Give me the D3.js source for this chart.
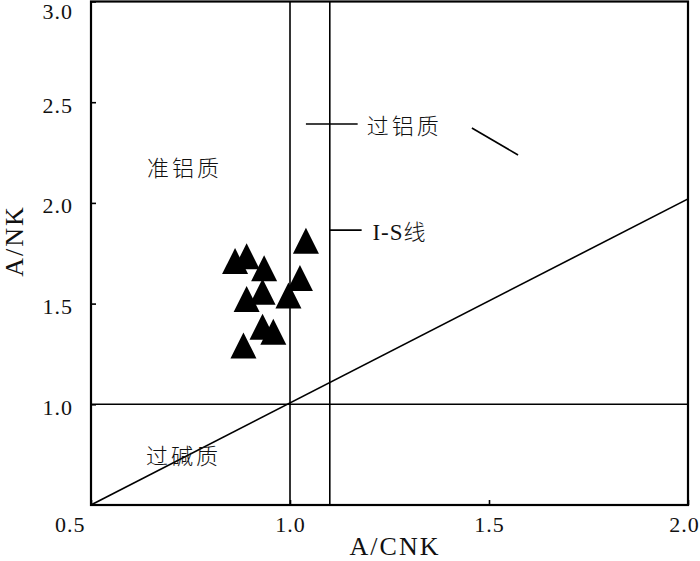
<!DOCTYPE html>
<html>
<head>
<meta charset="utf-8">
<script src="https://cdn.jsdelivr.net/npm/d3@7"></script>
<style>
  body { margin: 0; background: #fff; }
  svg { display: block; }
  .tick text { font-family: "Liberation Serif", "Times New Roman", serif; font-size: 22px; fill: #111; letter-spacing: 1px; }
  .lbl-cn { font-family: "Noto Sans CJK SC", sans-serif; font-size: 22px; fill: #111; letter-spacing: 3px; font-weight: 300; }
  .lbl-en { font-family: "Liberation Serif", serif; font-size: 23px; fill: #111; letter-spacing: 1px; }
  .axis-title { font-family: "Liberation Serif", serif; font-size: 26px; fill: #111; letter-spacing: 2px; }
</style>
</head>
<body>
<svg id="chart" width="700" height="561"></svg>
<script>
// sample points (A/CNK, A/NK)
const acnk = [0.862, 0.891, 0.935, 1.040, 1.025, 0.931, 0.891, 0.996, 0.931, 0.958, 0.883];
const anks = [1.711, 1.735, 1.675, 1.812, 1.627, 1.559, 1.523, 1.540, 1.385, 1.360, 1.292];

const xTicks = [0.5, 1.0, 1.5, 2.0];
const yTicks = [0.5, 1.0, 1.5, 2.0, 2.5, 3.0];

// boundary lines: A/NK = 1, A/CNK = 1, I-S line at A/CNK = 1.1, diagonal
const hLines = [1.0];
const vLines = [1.0, 1.1];
const diagonal = [[0.5, 0.5], [2.0, 2.02]];

const margin = { top: 1.5, right: 12, bottom: 56, left: 91 };
const width = 700, height = 561;

const svg = d3.select('#chart');

const x = d3.scaleLinear().domain([0.5, 2.0]).range([margin.left, width - margin.right]);
const y = d3.scaleLinear().domain([0.5, 3.0]).range([height - margin.bottom, margin.top]);

const [x0, x1] = x.range();
const [y0, y1] = y.range();

svg.append('defs').append('clipPath').attr('id', 'plot-clip')
  .append('rect')
  .attr('x', x0).attr('y', y1)
  .attr('width', x1 - x0).attr('height', y0 - y1);

const plot = svg.append('g').attr('clip-path', 'url(#plot-clip)');

plot.selectAll('.hline')
  .data(hLines)
  .join('line')
  .attr('class', 'hline')
  .attr('x1', x0).attr('x2', x1)
  .attr('y1', (d) => y(d)).attr('y2', (d) => y(d))
  .attr('stroke', '#000').attr('stroke-width', 1.6);

plot.selectAll('.vline')
  .data(vLines)
  .join('line')
  .attr('class', 'vline')
  .attr('x1', (d) => x(d)).attr('x2', (d) => x(d))
  .attr('y1', y0).attr('y2', y1)
  .attr('stroke', '#000').attr('stroke-width', 1.6);

plot.append('path')
  .datum(diagonal)
  .attr('d', d3.line().x((d) => x(d[0])).y((d) => y(d[1])))
  .attr('fill', 'none')
  .attr('stroke', '#000')
  .attr('stroke-width', 1.6);

// leader lines for labels (in data units)
const leaders = [
  [[1.04, 2.392], [1.17, 2.392]],
  [[1.1, 1.865], [1.18, 1.865]],
  [[1.457, 2.372], [1.573, 2.238]],
];
plot.selectAll('.leader')
  .data(leaders)
  .join('path')
  .attr('class', 'leader')
  .attr('d', d3.line().x((d) => x(d[0])).y((d) => y(d[1])))
  .attr('fill', 'none')
  .attr('stroke', '#000')
  .attr('stroke-width', 1.6);

// triangles
const tri = 'M0,-13L13,13L-13,13Z';
plot.selectAll('.pt')
  .data(acnk.map((v, i) => ({ x: v, y: anks[i] })))
  .join('path')
  .attr('class', 'pt')
  .attr('d', tri)
  .attr('transform', (d) => `translate(${x(d.x)},${y(d.y)})`)
  .attr('fill', '#000');

// axes
const xAxis = svg.append('g')
  .attr('transform', `translate(0,${y0})`)
  .call(d3.axisBottom(x).tickValues(xTicks).tickFormat(d3.format('.1f')).tickSize(-5).tickPadding(11));
const yAxis = svg.append('g')
  .attr('transform', `translate(${x0},0)`)
  .call(d3.axisLeft(y).tickValues(yTicks).tickFormat(d3.format('.1f')).tickSize(-5).tickPadding(18));

[xAxis, yAxis].forEach((g) => {
  g.select('.domain').remove();
  g.selectAll('.tick line').attr('stroke', '#000').attr('stroke-width', 1.6);
});

yAxis.selectAll('.tick text').attr('dy', '0.45em');
yAxis.selectAll('.tick').filter((d) => d === 0.5).remove();
yAxis.selectAll('.tick').filter((d) => d === 3.0).select('text').attr('dy', '0.78em');

xAxis.selectAll('.tick').filter((d) => d === 0.5).select('text')
  .attr('text-anchor', 'end').attr('x', -6);
xAxis.selectAll('.tick').filter((d) => d === 2.0).select('text')
  .attr('x', -4);

// frame
svg.append('rect')
  .attr('x', x0).attr('y', y1)
  .attr('width', x1 - x0).attr('height', y0 - y1)
  .attr('fill', 'none')
  .attr('stroke', '#000')
  .attr('stroke-width', 2.2);

// region labels
const labels = [
  { t: '准铝质', x: 0.641, y: 2.17 },
  { t: '过铝质', x: 1.193, y: 2.38 },
  { t: '过碱质', x: 0.638, y: 0.74 },
];
svg.selectAll('.region')
  .data(labels)
  .join('text')
  .attr('class', 'region lbl-cn')
  .attr('x', (d) => x(d.x))
  .attr('y', (d) => y(d.y))
  .attr('dy', '0.35em')
  .text((d) => d.t);

svg.append('text')
  .attr('class', 'lbl-en')
  .attr('x', x(1.207)).attr('y', y(1.855))
  .attr('dy', '0.35em')
  .text('I-S')
  .append('tspan')
  .attr('class', 'lbl-cn')
  .style('letter-spacing', '0px')
  .text('线');

// axis titles
svg.append('text')
  .attr('class', 'axis-title')
  .attr('x', 395).attr('y', 555)
  .attr('text-anchor', 'middle')
  .text('A/CNK');

svg.append('text')
  .attr('class', 'axis-title')
  .attr('transform', 'translate(23,241) rotate(-90)')
  .attr('text-anchor', 'middle')
  .text('A/NK');
</script>
</body>
</html>
